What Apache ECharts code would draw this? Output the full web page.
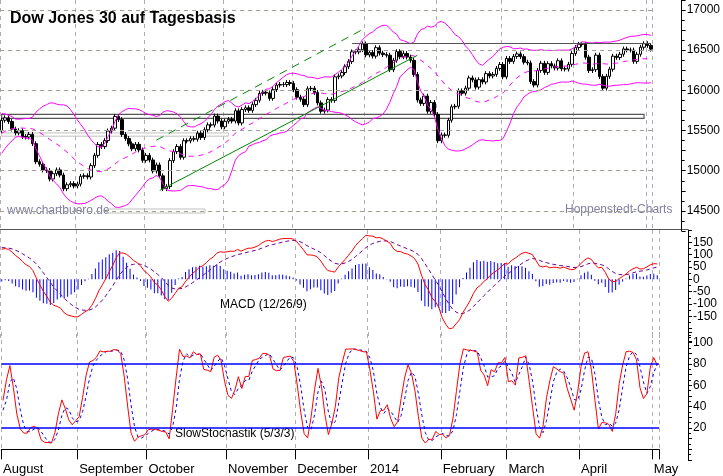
<!DOCTYPE html>
<html>
<head>
<meta charset="utf-8">
<script src="https://cdn.jsdelivr.net/npm/echarts@6/dist/echarts.min.js"></script>
<style>html,body{margin:0;padding:0;background:#fff}#chart{width:723px;height:476px}</style>
</head>
<body>
<div id="chart"></div>
<script>
// warm-up closes (July 2013) used only for the indicators
const warmup = [14975, 14932, 14988, 15135, 15224, 15300, 15291, 15460, 15464, 15484, 15451,
    15470, 15548, 15543, 15545, 15567, 15542, 15555, 15559, 15521, 15520, 15500];

const monthNames = ["August", "September", "October", "November", "December", "2014", "February", "March", "April", "May"];
const monthStart = [0, 22, 42, 65, 85, 106, 127, 146, 167, 188];

const closes = [
    // Aug
    15628, 15658, 15612, 15518, 15470, 15498, 15425, 15419, 15451, 15337, 15112, 15081, 15010, 15002, 14897, 14963, 15010, 14946, 14776, 14825, 14840, 14810,
    // Sep
    14834, 14930, 14938, 14922, 15063, 15191, 15326, 15300, 15376, 15494, 15529, 15676, 15636, 15451, 15401, 15334, 15273, 15328, 15258, 15129,
    // Oct
    15191, 15133, 14996, 15072, 14936, 14776, 14803, 15126, 15237, 15301, 15168, 15373, 15371, 15399, 15392, 15467, 15413, 15509, 15570, 15568, 15680, 15618, 15546,
    // Nov
    15615, 15639, 15618, 15746, 15594, 15761, 15783, 15751, 15822, 15876, 15962, 15976, 15967, 15900, 16009, 16065, 16073, 16072, 16097, 16086,
    // Dec
    16008, 15915, 15889, 15822, 16020, 16025, 15973, 15844, 15740, 15755, 15885, 15875, 16168, 16179, 16221, 16294, 16358, 16479, 16478, 16505, 16577,
    // Jan
    16441, 16470, 16426, 16531, 16463, 16445, 16437, 16257, 16374, 16482, 16418, 16459, 16414, 16373, 16198, 15879, 15838, 15929, 15739, 15849, 15699,
    // Feb
    15373, 15445, 15441, 15628, 15795, 15802, 15994, 15964, 16027, 16154, 16130, 16040, 16133, 16104, 16208, 16179, 16198, 16273, 16322,
    // Mar
    16168, 16396, 16360, 16422, 16453, 16419, 16351, 16341, 16109, 16066, 16248, 16337, 16223, 16332, 16303, 16277, 16368, 16269, 16265, 16324, 16458,
    // Apr
    16533, 16573, 16573, 16413, 16246, 16257, 16438, 16171, 16027, 16174, 16263, 16425, 16409, 16449, 16515, 16502, 16501, 16361, 16449, 16536, 16581,
    // May
    16559, 16513
];

const all = warmup.concat(closes);
const W = warmup.length;
const wick = 30;
const candles = closes.map((c, i) => {
    const o = all[W + i - 1];
    return [o, c, Math.min(o, c) - wick, Math.max(o, c) + wick];
});
const highs = all.map((c, i) => Math.max(c, i ? all[i - 1] : c) + wick);
const lows = all.map((c, i) => Math.min(c, i ? all[i - 1] : c) - wick);

function sma(arr, n, i) {
    let s = 0;
    for (let k = i - n + 1; k <= i; k++) s += arr[Math.max(k, 0)];
    return s / n;
}
// Bollinger 20/2
const mid = [], up = [], dn = [];
for (let i = W; i < all.length; i++) {
    const m = sma(all, 20, i);
    let v = 0;
    for (let k = i - 19; k <= i; k++) v += (all[k] - m) ** 2;
    const sd = Math.sqrt(v / 20);
    mid.push(+m.toFixed(1)); up.push(+(m + 2 * sd).toFixed(1)); dn.push(+(m - 2 * sd).toFixed(1));
}
// MACD 12/26/9
function ema(arr, n) {
    const a = 2 / (n + 1), out = [arr[0]];
    for (let i = 1; i < arr.length; i++) out.push(a * arr[i] + (1 - a) * out[i - 1]);
    return out;
}
const e12 = ema(all, 12), e26 = ema(all, 26);
const macdAll = all.map((_, i) => e12[i] - e26[i]);
const sigAll = ema(macdAll, 9);
const macd = macdAll.slice(W).map(v => +v.toFixed(1));
const signal = sigAll.slice(W).map(v => +v.toFixed(1));
const hist = macd.map((v, i) => +(1.3 * (v - signal[i])).toFixed(1));
// Slow stochastic 5/3/3
const fastK = all.map((c, i) => {
    let hh = -Infinity, ll = Infinity;
    for (let k = Math.max(0, i - 4); k <= i; k++) { hh = Math.max(hh, highs[k]); ll = Math.min(ll, lows[k]); }
    return 100 * (c - ll) / (hh - ll);
});
const slowK = fastK.map((_, i) => sma(fastK, 3, i));
const slowD = slowK.map((_, i) => sma(slowK, 3, i));
const stK = slowK.slice(W).map(v => +v.toFixed(1));
const stD = slowD.slice(W).map(v => +v.toFixed(1));

const cats = closes.map((_, i) => i);
const isStart = i => monthStart.indexOf(i) >= 0;
const font = "Liberation Sans";

const chart = echarts.init(document.getElementById('chart'));

function xAx(gi, showLabels, vColor) {
    return {
        type: 'category', gridIndex: gi, data: cats, boundaryGap: true,
        axisLine: { show: showLabels, lineStyle: { color: '#000' } },
        axisTick: { show: showLabels, interval: (i) => isStart(i), length: 10, lineStyle: { color: '#000' } },
        axisLabel: {
            show: showLabels, interval: (i) => isStart(i), align: 'left', margin: 3,
            color: '#000', fontFamily: font, fontSize: 13,
            formatter: (v) => monthNames[monthStart.indexOf(+v)] || ''
        },
        splitLine: { show: true, interval: (i) => isStart(i), lineStyle: { color: vColor, type: [4, 4] } }
    };
}
function yAx(gi, min, max, interval, labels) {
    return {
        type: 'value', gridIndex: gi, position: 'right', offset: 29, min: min, max: max, interval: interval,
        axisLine: { show: true, lineStyle: { color: '#000' } },
        axisTick: { show: true, length: 4, lineStyle: { color: '#000' } },
        minorTick: { show: true, splitNumber: 2, length: 3, lineStyle: { color: '#000' } },
        axisLabel: { color: '#000', fontFamily: font, fontSize: 12, margin: 5, showMaxLabel: true,
            formatter: (v) => labels.indexOf(v) >= 0 ? String(v) : '' },
        splitLine: { show: false }
    };
}

chart.setOption({
    animation: false,
    grid: [
        { left: 0, top: 0, width: 659, height: 231 },
        { left: 0, top: 230, width: 659, height: 111 },
        { left: 0, top: 332, width: 659, height: 131 }
    ],
    xAxis: [xAx(0, false, '#b8a8b8'), xAx(1, false, '#b0b0b0'), xAx(2, true, '#b0b0b0')],
    yAxis: [
        yAx(0, 14250, 17124, 250, [14500, 15000, 15500, 16000, 16500, 17000]),
        yAx(1, -250, 200, 50, [-150, -100, -50, 0, 50, 100, 150]),
        yAx(2, -10, 110, 10, [20, 40, 60, 80, 100])
    ],
    series: [
        { type: 'line', xAxisIndex: 0, yAxisIndex: 0, data: [], silent: true,
          markLine: { silent: true, symbol: 'none', label: { show: false },
            lineStyle: { color: '#a0a090', type: [4, 4], width: 1 },
            data: [14500, 15000, 15500, 16000, 16500, 17000].map(v => ({ yAxis: v })) } },
        { type: 'line', xAxisIndex: 0, yAxisIndex: 0, data: up, symbol: 'none', lineStyle: { color: '#ff00ff', width: 1 } },
        { type: 'line', xAxisIndex: 0, yAxisIndex: 0, data: dn, symbol: 'none', lineStyle: { color: '#ff00ff', width: 1 } },
        { type: 'line', xAxisIndex: 0, yAxisIndex: 0, data: mid, symbol: 'none', lineStyle: { color: '#ff00ff', width: 1, type: [5, 5] } },
        { type: 'candlestick', xAxisIndex: 0, yAxisIndex: 0, data: candles, barWidth: 3,
          itemStyle: { color: '#fff', color0: '#000', borderColor: '#000', borderColor0: '#000', borderWidth: 1 },
          markArea: { silent: true, data: [
              [{ coord: [0, 15700], itemStyle: { color: 'rgba(0,0,0,0)', borderColor: '#555', borderWidth: 1.2 } }, { coord: [187, 15650] }],
              [{ coord: [0, 15470], itemStyle: { color: 'rgba(0,0,0,0)', borderColor: '#c0c0c0', borderWidth: 1 } }, { coord: [66, 15430] }]
          ] },
          markLine: { silent: true, symbol: 'none', label: { show: false }, data: [
              [{ coord: [102, 16580], lineStyle: { color: '#555', width: 1.2, type: 'solid' } }, { coord: [189, 16580] }],
              [{ coord: [46, 14755], lineStyle: { color: '#008800', width: 1, type: 'solid' } }, { coord: [121, 16436] }],
              [{ coord: [45, 15380], lineStyle: { color: '#008800', width: 1, type: [8, 6] } }, { coord: [105, 16755] }]
          ] } },
        { type: 'bar', xAxisIndex: 1, yAxisIndex: 1, data: hist, barWidth: 1, itemStyle: { color: '#0000ff' } },
        { type: 'line', xAxisIndex: 1, yAxisIndex: 1, data: signal, symbol: 'none', lineStyle: { color: '#660099', width: 1, type: [4, 3] } },
        { type: 'line', xAxisIndex: 1, yAxisIndex: 1, data: macd, symbol: 'none', lineStyle: { color: '#ff0000', width: 1 } },
        { type: 'line', xAxisIndex: 2, yAxisIndex: 2, data: stD, symbol: 'none', lineStyle: { color: '#0000ff', width: 1, type: [3, 3] },
          markLine: { silent: true, symbol: 'none', label: { show: false }, lineStyle: { color: '#0000ff', width: 1.5, type: 'solid' },
            data: [{ yAxis: 80 }, { yAxis: 20 }] } },
        { type: 'line', xAxisIndex: 2, yAxisIndex: 2, data: stK, symbol: 'none', lineStyle: { color: '#ff0000', width: 1 } }
    ],
    graphic: [
        { type: 'line', shape: { x1: 0, y1: 229.5, x2: 688, y2: 229.5 }, style: { stroke: '#555', lineWidth: 1 } },
        { type: 'text', left: 10, top: 11, style: { text: 'Dow Jones 30 auf Tagesbasis', font: 'bold 16px "Liberation Sans"', fill: '#000' } },
        { type: 'text', left: 7, top: 205, style: { text: 'www.chartbuero.de', font: '12px "Liberation Sans"', fill: '#8080a0' } },
        { type: 'rect', shape: { x: 107, y: 209, width: 98, height: 4 }, style: { fill: 'none', stroke: '#c0c0c0', lineWidth: 1 } },
        { type: 'text', left: 565, top: 204, style: { text: 'Hoppenstedt-Charts', font: '12px "Liberation Sans"', fill: '#8080a0' } },
        { type: 'text', left: 220, top: 299, style: { text: 'MACD (12/26/9)', font: '12px "Liberation Sans"', fill: '#000' } },
        { type: 'text', left: 175, top: 428, style: { text: 'SlowStochastik (5/3/3)', font: '12px "Liberation Sans"', fill: '#000' } }
    ]
});

window.addEventListener("resize", () => chart.resize());
</script>
</body>
</html>
